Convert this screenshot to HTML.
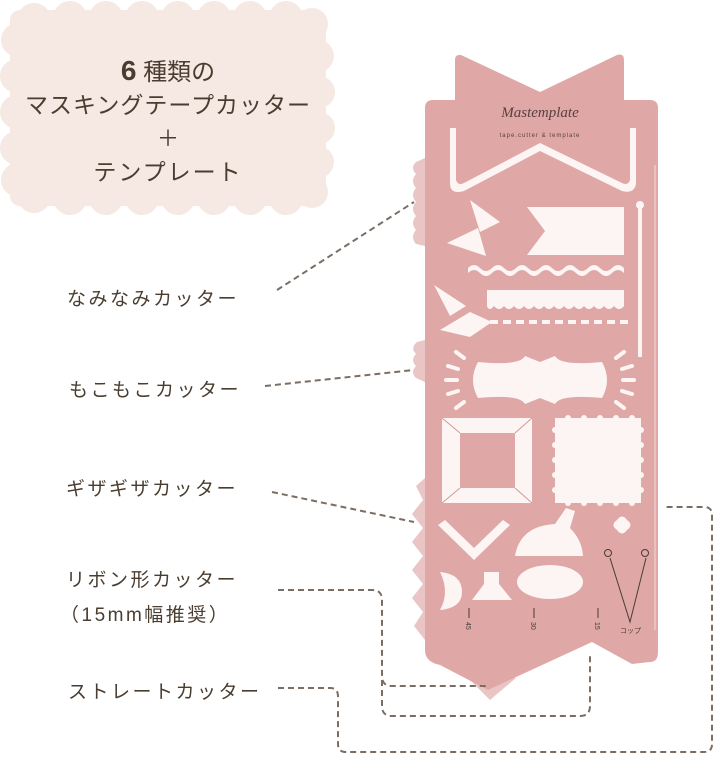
<!DOCTYPE html>
<html><head><meta charset="utf-8"><style>
html,body{margin:0;padding:0;background:#fff;width:720px;height:757px;overflow:hidden}
svg{display:block}
.t{font-family:"Liberation Sans","Noto Sans CJK JP",sans-serif;fill:#4a3d30}
</style></head><body>
<svg width="720" height="757" viewBox="0 0 720 757" xmlns="http://www.w3.org/2000/svg">
<!-- scalloped label -->
<g fill="#f6e8e3">
<rect x="10" y="10" width="316" height="196" rx="10"/>
<circle cx="34" cy="20" r="17"/><circle cx="70" cy="18" r="17"/><circle cx="106" cy="18" r="17"/><circle cx="142" cy="18" r="17"/><circle cx="178" cy="18" r="17"/><circle cx="214" cy="18" r="17"/><circle cx="250" cy="18" r="17"/><circle cx="286" cy="18" r="17"/><circle cx="312" cy="24" r="16"/>
<circle cx="34" cy="196" r="17"/><circle cx="70" cy="198" r="17"/><circle cx="106" cy="198" r="17"/><circle cx="142" cy="198" r="17"/><circle cx="178" cy="198" r="17"/><circle cx="214" cy="198" r="17"/><circle cx="250" cy="198" r="17"/><circle cx="286" cy="198" r="17"/><circle cx="312" cy="192" r="16"/>
<circle cx="18" cy="40" r="17"/><circle cx="17" cy="76" r="17"/><circle cx="17" cy="112" r="17"/><circle cx="17" cy="148" r="17"/><circle cx="18" cy="180" r="17"/>
<circle cx="318" cy="56" r="16"/><circle cx="319" cy="92" r="16"/><circle cx="319" cy="128" r="16"/><circle cx="318" cy="162" r="16"/>
</g>
<g class="t" text-anchor="middle">
<text x="168" y="80" font-size="24"><tspan font-size="28" font-weight="bold">6</tspan> 種類の</text>
<text x="168" y="113" font-size="23" letter-spacing="1">マスキングテープカッター</text>
<text x="168" y="146" font-size="22">＋</text>
<text x="168" y="180" font-size="23" letter-spacing="2">テンプレート</text>
</g>
<g class="t" font-size="19" letter-spacing="2.5">
<text x="67" y="305">なみなみカッター</text>
<text x="69" y="396">もこもこカッター</text>
<text x="66" y="495">ギザギザカッター</text>
<text x="66" y="586">リボン形カッター</text>
<text x="60" y="621">（15mm幅推奨）</text>
<text x="68" y="698">ストレートカッター</text>
</g>
<!-- cutter attachments -->
<g fill="#e9c6c5">
<path d="M425,158 L416,162 Q410,168 416,174 Q410,181 416,188 Q410,195 416,202 Q410,209 416,216 Q410,223 416,230 Q410,237 416,244 L425,246Z"/>
<path d="M425,340 L417,342 Q410,348 416,354 Q410,360 416,366 Q410,372 416,378 L425,382Z"/>
<path d="M425,478 L416,486 L423,500 L412,514 L423,528 L412,542 L423,556 L412,570 L423,584 L412,598 L423,612 L414,626 L425,640Z"/>
<path d="M462,672 L490,700 L516,678Z"/>
</g>
<!-- plate -->
<path fill="#dfa8a6" d="M455,60 Q455,54 461,55 L540,92 L617,55 Q624,53 624,60 L624,100 L650,100 Q658,100 658,108 L658,652 Q658,662 650,662 L632,664 L592,642 L488,690 L440,665 Q425,662 425,650 L425,108 Q425,100 433,100 L455,100Z"/>
<line x1="655" y1="165" x2="655" y2="630" stroke="#e9c2c0" stroke-width="2"/>
<text x="540" y="117" text-anchor="middle" font-family="Liberation Serif,serif" font-style="italic" font-size="15" fill="#5a4040">Mastemplate</text>
<text x="540" y="137" text-anchor="middle" font-family="Liberation Sans,sans-serif" font-size="6" letter-spacing="1" fill="#5a4040">tape.cutter &amp; template</text>
<g fill="#fcf5f4" stroke="none">
<path d="M450,128 h6 v52 q2,6 8,3 l76,-40 l82,40 q6,3 8,-3 v-52 h6 v56 q-2,10 -14,7 l-82,-40 l-76,40 q-14,4 -14,-8Z"/>
<path d="M470,200 L500,222 L480,232 Z"/><path d="M447,243 L478,228 L486,256 Z"/>
<path d="M527,207 H624 V255 H527 L545,231Z"/>
<circle cx="640" cy="205" r="4"/><rect x="638" y="205" width="4" height="152"/>
<path d="M434,285 L466,306 L450,316 Z"/><path d="M440,330 L470,312 L492,322 L470,337Z"/>
<path d="M468,268 q6,-6 12,0 t12,0 t12,0 t12,0 t12,0 t12,0 t12,0 t12,0 t12,0 t12,0 t12,0 t12,0 t12,0 v5 q-6,-6 -12,0 t-12,0 t-12,0 t-12,0 t-12,0 t-12,0 t-12,0 t-12,0 t-12,0 t-12,0 t-12,0 t-12,0 t-12,0Z"/>
<path d="M487,290 H624 V306 q-5,6 -10,0 q-5,6 -10,0 q-5,6 -10,0 q-5,6 -10,0 q-5,6 -10,0 q-5,6 -10,0 q-5,6 -10,0 q-5,6 -10,0 q-5,6 -10,0 q-5,6 -10,0 q-5,6 -10,0 q-5,6 -10,0 q-5,6 -10,0 q-5,6 -7,0Z"/>
<g><rect x="490" y="320" width="8" height="4"/><rect x="503" y="320" width="8" height="4"/><rect x="516" y="320" width="8" height="4"/><rect x="529" y="320" width="8" height="4"/><rect x="542" y="320" width="8" height="4"/><rect x="555" y="320" width="8" height="4"/><rect x="568" y="320" width="8" height="4"/><rect x="581" y="320" width="8" height="4"/><rect x="594" y="320" width="8" height="4"/><rect x="607" y="320" width="8" height="4"/><rect x="620" y="320" width="8" height="4"/></g>
<path d="M478,362 Q520,366 525,356 L540,362 L555,356 Q560,366 602,362 Q612,380 602,398 Q560,394 555,404 L540,398 L525,404 Q520,394 478,398 Q468,380 478,362Z"/>
<g stroke="#fcf5f4" stroke-width="4" stroke-linecap="round">
<line x1="456" y1="352" x2="464" y2="358"/><line x1="448" y1="366" x2="458" y2="369"/><line x1="446" y1="380" x2="457" y2="380"/><line x1="448" y1="394" x2="458" y2="391"/><line x1="456" y1="408" x2="464" y2="402"/>
<line x1="624" y1="352" x2="616" y2="358"/><line x1="632" y1="366" x2="622" y2="369"/><line x1="634" y1="380" x2="623" y2="380"/><line x1="632" y1="394" x2="622" y2="391"/><line x1="624" y1="408" x2="616" y2="402"/>
</g>
<path fill-rule="evenodd" d="M442,418 H532 V503 H442Z M460,433 V488 H515 V433Z"/>
<rect x="555" y="418" width="86" height="85"/>
<g><circle cx="555" cy="430" r="3"/><circle cx="555" cy="445" r="3"/><circle cx="555" cy="460" r="3"/><circle cx="555" cy="475" r="3"/><circle cx="555" cy="490" r="3"/><circle cx="641" cy="430" r="3"/><circle cx="641" cy="445" r="3"/><circle cx="641" cy="460" r="3"/><circle cx="641" cy="475" r="3"/><circle cx="641" cy="490" r="3"/><circle cx="568" cy="503" r="3"/><circle cx="584" cy="503" r="3"/><circle cx="600" cy="503" r="3"/><circle cx="616" cy="503" r="3"/><circle cx="632" cy="503" r="3"/><circle cx="568" cy="418" r="3"/><circle cx="584" cy="418" r="3"/><circle cx="600" cy="418" r="3"/><circle cx="616" cy="418" r="3"/><circle cx="632" cy="418" r="3"/></g>
<path d="M438,525 L445,520 L474,548 L503,520 L510,525 L474,560Z"/>
<path d="M515,556 Q520,526 555,524 L566,508 L575,511 L570,528 Q582,540 583,556Z"/>
<path d="M617,520 q5,-7 10,0 q7,5 0,10 q-5,7 -10,0 q-7,-5 0,-10Z"/>
<path d="M440,572 Q462,574 462,592 Q462,608 440,610 Q450,592 440,572Z"/>
<path d="M484,572 H499 V584 L512,600 H472 L484,584Z"/>
<ellipse cx="550" cy="582" rx="33" ry="17"/>
</g>
<g stroke="#d09a98" stroke-width="1" fill="none"><path d="M442,418 L460,433 M532,418 L515,433 M442,503 L460,488 M532,503 L515,488"/></g>
<g stroke="#4a3a3a" stroke-width="1" fill="none">
<path d="M610,558 L630,622 L646,558"/>
<line x1="469" y1="608" x2="469" y2="618"/><line x1="534" y1="608" x2="534" y2="618"/><line x1="598" y1="608" x2="598" y2="618"/>
<circle cx="608" cy="553" r="3.5"/><circle cx="645" cy="553" r="3.5"/>
</g>
<g font-family="Liberation Sans,'Noto Sans CJK JP',sans-serif" font-size="7" fill="#4a3a3a">
<text x="466" y="622" transform="rotate(90 466 622)">45</text>
<text x="531" y="622" transform="rotate(90 531 622)">30</text>
<text x="595" y="622" transform="rotate(90 595 622)">15</text>
<text x="620" y="633">コップ</text>
</g>
<g fill="none" stroke="#7a6e64" stroke-width="2" stroke-dasharray="6,4">
<line x1="277" y1="290" x2="414" y2="202"/>
<line x1="265" y1="386" x2="414" y2="370"/>
<line x1="272" y1="492" x2="414" y2="522"/>
<path d="M278,590 H372 Q382,590 382,600 V676 Q382,686 392,686 H488"/>
<path d="M382,680 V706 Q382,716 392,716 H580 Q590,716 590,706 V654"/>
<path d="M278,688 H330 Q338,688 338,696 V744 Q338,752 346,752 H704 Q712,752 712,744 V515 Q712,507 704,507 H665"/>
</g>
</svg>
</body></html>
